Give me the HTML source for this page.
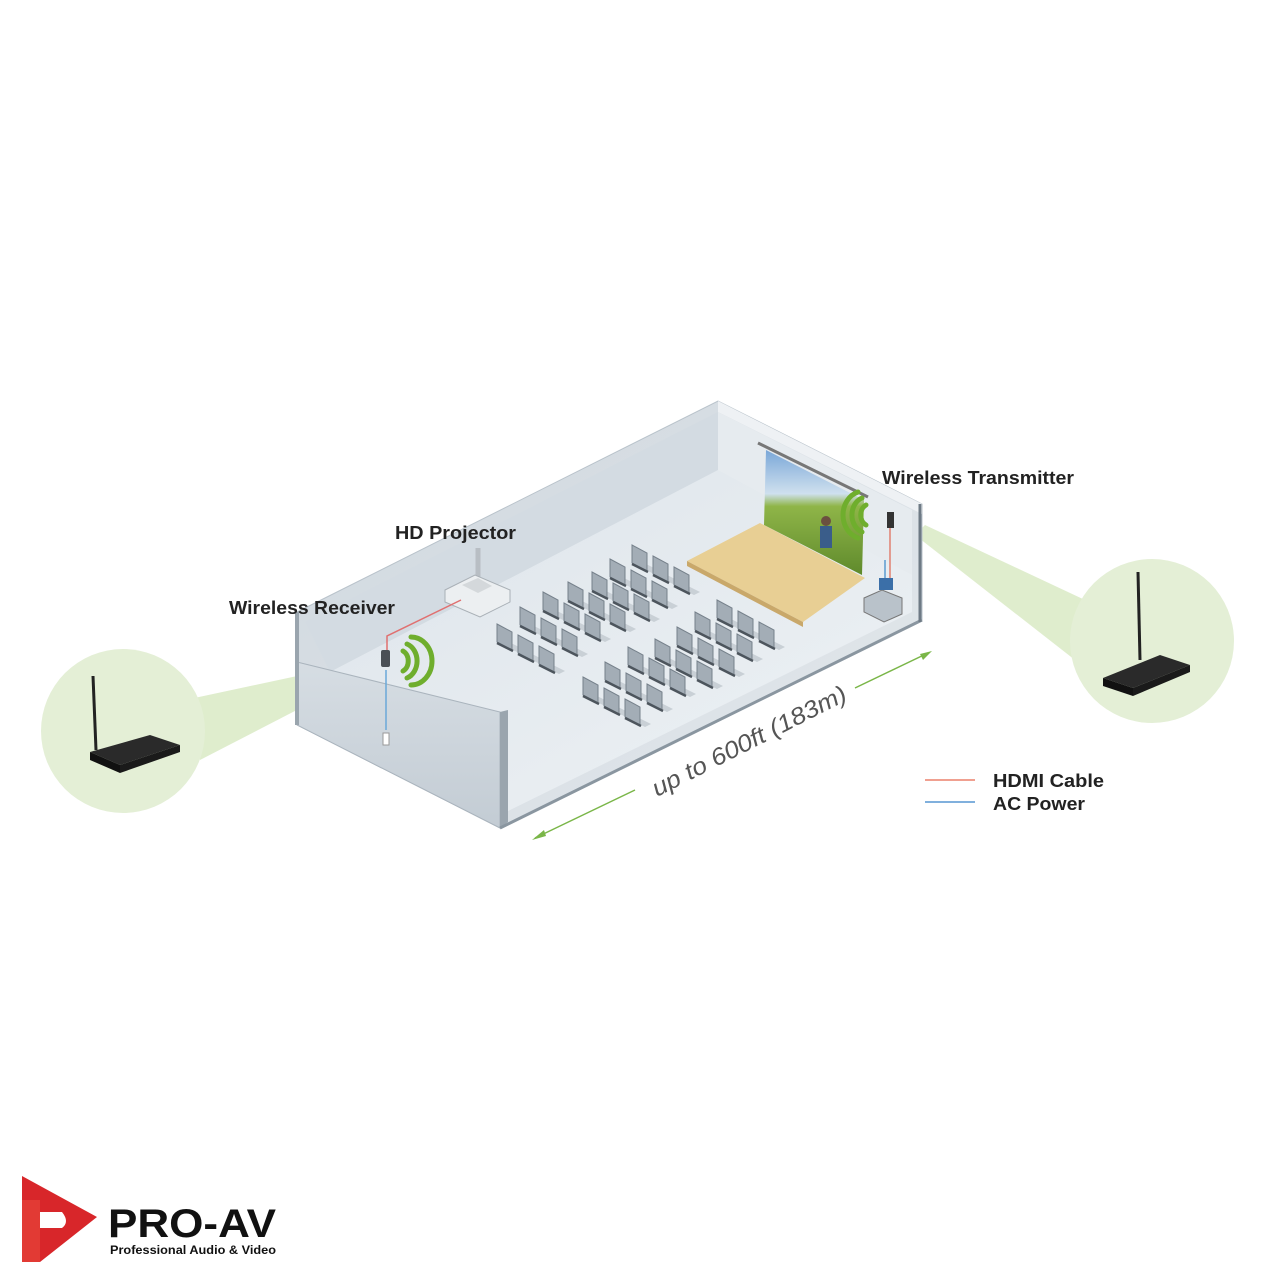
<!DOCTYPE html>
<html><head><meta charset="utf-8"><style>
html,body{margin:0;padding:0;background:#fff;width:1280px;height:1280px;overflow:hidden}
svg{display:block}
text{font-family:"Liberation Sans",sans-serif}
</style></head><body>
<svg width="1280" height="1280" viewBox="0 0 1280 1280" xmlns="http://www.w3.org/2000/svg">
<defs>
<linearGradient id="wall" x1="0" y1="0" x2="1" y2="1"><stop offset="0" stop-color="#cfd7de"/><stop offset="1" stop-color="#e3e8ec"/></linearGradient>
<linearGradient id="floor" x1="0" y1="0" x2="1" y2="1"><stop offset="0" stop-color="#dde4ea"/><stop offset="1" stop-color="#eef2f5"/></linearGradient>
<linearGradient id="front" x1="0" y1="0" x2="0" y2="1"><stop offset="0" stop-color="#d6dde3"/><stop offset="1" stop-color="#c3ccd4"/></linearGradient>
<linearGradient id="scr" x1="0" y1="0" x2="0" y2="1"><stop offset="0" stop-color="#7aa7d8"/><stop offset="0.35" stop-color="#cfe0ee"/><stop offset="0.45" stop-color="#8fb548"/><stop offset="1" stop-color="#5f8a2c"/></linearGradient>
<g id="ch">
<polygon points="4,20 20,28 26,25 10,17" fill="#c9d0d6"/>
<polygon points="0,0 15,8 15,26 0,18" fill="#a3adb6" stroke="#76818b" stroke-width="1"/>
<line x1="0" y1="19" x2="16" y2="27" stroke="#4d555d" stroke-width="2.5"/>
</g>
</defs>

<polygon points="185,700 372,660 380,667 200,760" fill="#dcebc8" opacity="0.9"/>
<polygon points="925,525 1085,600 1075,660 915,535" fill="#dcebc8" opacity="0.9"/>
<circle cx="123" cy="731" r="82" fill="#e4efd6"/>
<circle cx="1152" cy="641" r="82" fill="#e4efd6"/>

<polygon points="297,612 718,401 922,504 922,620 500,828 297,725" fill="url(#wall)" stroke="#b8c2ca" stroke-width="1"/>
<polygon points="718,401 922,504 922,514 718,412" fill="#eef1f4"/>
<polygon points="718,412 912,510 912,612 718,520" fill="#e6ebef"/>
<polygon points="305,622 718,412 718,470 330,672" fill="#d3dbe2"/>
<polygon points="330,672 718,470 912,575 912,612 500,815 305,710" fill="url(#floor)"/>
<polygon points="297,662 500,712 500,828 297,725" fill="url(#front)" stroke="#aab4bd" stroke-width="1"/>
<polygon points="500,712 508,710 508,822 500,828" fill="#9aa5ae"/>
<line x1="500" y1="828" x2="922" y2="620" stroke="#8a96a0" stroke-width="3"/>
<line x1="297" y1="612" x2="297" y2="725" stroke="#9aa5ae" stroke-width="4"/>
<line x1="920" y1="504" x2="920" y2="622" stroke="#6e7a85" stroke-width="3"/>

<!-- screen -->
<line x1="758" y1="443" x2="868" y2="497" stroke="#777" stroke-width="3"/>
<polygon points="766,450 864,500 862,575 764,525" fill="url(#scr)"/>
<circle cx="826" cy="521" r="5" fill="#6b5040"/>
<rect x="820" y="526" width="12" height="22" fill="#3a5d8a"/>
<!-- stage -->
<polygon points="687,561 760,523 865,578 803,622" fill="#e8cf94"/>
<polygon points="687,561 803,622 803,627 687,566" fill="#c9a86a"/>
<g fill="none" stroke="#6fae2d" stroke-width="5" stroke-linecap="round">
<path d="M866,505 a9,11 0 0 0 0,20"/><path d="M862,498 a15,18 0 0 0 0,34"/><path d="M858,492 a21,24 0 0 0 0,46"/>
</g>
<rect x="887" y="512" width="7" height="16" fill="#333"/>
<line x1="890" y1="528" x2="890" y2="590" stroke="#e08070" stroke-width="1.5"/>
<line x1="885" y1="560" x2="885" y2="585" stroke="#5a9ad0" stroke-width="1.5"/>
<polygon points="864,598 882,590 902,598 902,614 884,622 864,612" fill="#b9c2ca" stroke="#777" stroke-width="1"/>
<rect x="879" y="578" width="14" height="12" fill="#3b6fa8"/>

<line x1="478" y1="548" x2="478" y2="582" stroke="#b8bec4" stroke-width="5"/>
<polygon points="445,590 475,575 510,590 510,602 480,617 445,602" fill="#eceff1" stroke="#a9b0b6" stroke-width="1"/>
<polygon points="462,585 478,578 492,586 478,593" fill="#d4d8db"/>
<polyline points="461,600 387,636 387,650" fill="none" stroke="#e07070" stroke-width="1.5"/>
<line x1="386" y1="670" x2="386" y2="730" stroke="#6aa8d8" stroke-width="1.5"/>
<rect x="383" y="733" width="6" height="12" fill="#fff" stroke="#999" stroke-width="1"/>
<rect x="381" y="650" width="9" height="17" rx="2" fill="#4a4f55"/>
<g fill="none" stroke="#6fae2d" stroke-width="5" stroke-linecap="round">
<path d="M403,651 a9,11 0 0 1 0,20"/><path d="M407,644 a15,18 0 0 1 0,34"/><path d="M411,637 a21,24 0 0 1 0,48"/>
</g>

<g>
<use href="#ch" x="632" y="545"/><use href="#ch" x="653" y="556"/><use href="#ch" x="674" y="567"/>
<use href="#ch" x="610" y="559"/><use href="#ch" x="631" y="570"/><use href="#ch" x="652" y="581"/>
<use href="#ch" x="592" y="572"/><use href="#ch" x="613" y="583"/><use href="#ch" x="634" y="594"/>
<use href="#ch" x="568" y="582"/><use href="#ch" x="589" y="593"/><use href="#ch" x="610" y="604"/>
<use href="#ch" x="543" y="592"/><use href="#ch" x="564" y="603"/><use href="#ch" x="585" y="614"/>
<use href="#ch" x="520" y="607"/><use href="#ch" x="541" y="618"/><use href="#ch" x="562" y="629"/>
<use href="#ch" x="497" y="624"/><use href="#ch" x="518" y="635"/><use href="#ch" x="539" y="646"/>
</g>
<g>
<use href="#ch" x="717" y="600"/><use href="#ch" x="738" y="611"/><use href="#ch" x="759" y="622"/>
<use href="#ch" x="695" y="612"/><use href="#ch" x="716" y="623"/><use href="#ch" x="737" y="634"/>
<use href="#ch" x="677" y="627"/><use href="#ch" x="698" y="638"/><use href="#ch" x="719" y="649"/>
<use href="#ch" x="655" y="639"/><use href="#ch" x="676" y="650"/><use href="#ch" x="697" y="661"/>
<use href="#ch" x="628" y="647"/><use href="#ch" x="649" y="658"/><use href="#ch" x="670" y="669"/>
<use href="#ch" x="605" y="662"/><use href="#ch" x="626" y="673"/><use href="#ch" x="647" y="684"/>
<use href="#ch" x="583" y="677"/><use href="#ch" x="604" y="688"/><use href="#ch" x="625" y="699"/>
</g>

<line x1="535" y1="838" x2="635" y2="790" stroke="#7ab648" stroke-width="1.5"/>
<polygon points="532,840 544,830 546,836" fill="#7ab648"/>
<line x1="855" y1="688" x2="928" y2="653" stroke="#7ab648" stroke-width="1.5"/>
<polygon points="932,651 920,654 923,660" fill="#7ab648"/>
<text x="0" y="0" font-size="24" font-style="italic" fill="#555" textLength="215" lengthAdjust="spacingAndGlyphs" transform="translate(657,797) rotate(-27)">up to 600ft (183m)</text>

<line x1="93" y1="676" x2="96" y2="750" stroke="#222" stroke-width="3"/>
<polygon points="90,752 150,735 180,745 120,765" fill="#2a2a2a"/>
<polygon points="90,752 120,765 120,773 90,760" fill="#111"/>
<polygon points="120,765 180,745 180,752 120,773" fill="#1a1a1a"/>
<line x1="1138" y1="572" x2="1140" y2="660" stroke="#222" stroke-width="3"/>
<polygon points="1103,678 1160,655 1190,665 1133,688" fill="#2a2a2a"/>
<polygon points="1103,678 1133,688 1133,696 1103,686" fill="#111"/>
<polygon points="1133,688 1190,665 1190,672 1133,696" fill="#1a1a1a"/>

<g font-weight="bold" font-size="18" fill="#222" lengthAdjust="spacingAndGlyphs">
<text x="395" y="539" textLength="121" lengthAdjust="spacingAndGlyphs">HD Projector</text>
<text x="229" y="614" textLength="166" lengthAdjust="spacingAndGlyphs">Wireless Receiver</text>
<text x="882" y="484" textLength="192" lengthAdjust="spacingAndGlyphs">Wireless Transmitter</text>
<text x="993" y="787" textLength="111" lengthAdjust="spacingAndGlyphs">HDMI Cable</text>
<text x="993" y="810" textLength="92" lengthAdjust="spacingAndGlyphs">AC Power</text>
</g>
<line x1="925" y1="780" x2="975" y2="780" stroke="#f0a090" stroke-width="2"/>
<line x1="925" y1="802" x2="975" y2="802" stroke="#80b0dd" stroke-width="2"/>

<path d="M22,1176 L97,1217 L40,1262 L40,1228 L62,1228 Q70,1222 62,1212 L40,1212 L40,1200 L22,1200 Z" fill="#d8262a"/>
<path d="M22,1200 L40,1200 L40,1262 L22,1262 Z" fill="#e23a34"/>
<text x="108" y="1237" font-size="40" font-weight="bold" fill="#111" textLength="168" lengthAdjust="spacingAndGlyphs">PRO-AV</text>
<text x="110" y="1254" font-size="12" font-weight="bold" fill="#111" textLength="166" lengthAdjust="spacingAndGlyphs">Professional Audio &amp; Video</text>
</svg>
</body></html>
